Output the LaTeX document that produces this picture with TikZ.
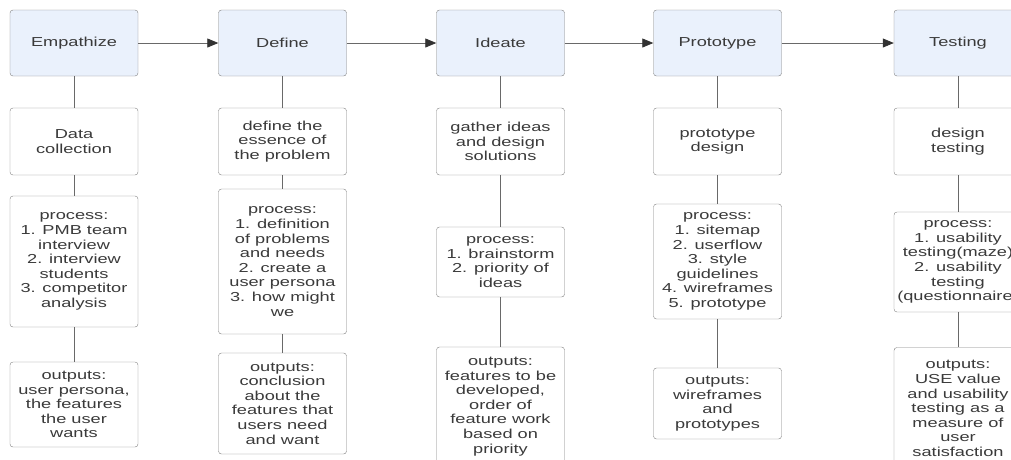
\documentclass[tikz,border=0pt]{standalone}
\usepackage{fontspec}
\setmainfont[FakeStretch=1.4]{Liberation Sans}
\usetikzlibrary{arrows.meta}
\definecolor{phasefill}{RGB}{234,241,252}
\definecolor{boxline}{RGB}{128,128,128}
\definecolor{inktext}{RGB}{58,58,58}
\definecolor{wire}{RGB}{105,105,105}
\definecolor{tipink}{RGB}{50,50,50}
\begin{document}
\begin{tikzpicture}[x=1pt,y=-1pt,
    phase/.style={draw=boxline,fill=phasefill,rounded corners=3pt,minimum width=128pt,
      minimum height=66pt,align=center,text=inktext,font=\fontsize{13}{15}\selectfont},
    card/.style={draw=boxline,fill=white,rounded corners=3pt,minimum width=128pt,
      inner sep=0pt,align=center,text=inktext,font=\fontsize{13}{14.6}\selectfont},
    link/.style={draw=wire,line width=0.8pt},
    flow/.style={link,-{Triangle[length=11pt,width=9pt,color=tipink]}}]
  \useasboundingbox (0,0) rectangle (1011,459);
  \clip (0,0) rectangle (1011,459);
  % top row
  \node[phase] (emp) at (74,43) {Empathize};
  \node[phase] (def) at (282.5,43) {Define};
  \node[phase] (ide) at (500.5,43) {Ideate};
  \node[phase] (pro) at (717.5,43) {Prototype};
  \node[phase] (tes) at (958,43) {Testing};
  \draw[flow] (emp) -- (def);
  \draw[flow] (def) -- (ide);
  \draw[flow] (ide) -- (pro);
  \draw[flow] (pro) -- (tes);
  % empathize
  \node[card,minimum height=67pt] (emp1) at (74,141.5) {Data\\collection};
  \node[card,minimum height=131pt] (emp2) at (74,261.5) {process:\\1. PMB team\\interview\\2. interview\\students\\3. competitor\\analysis};
  \node[card,minimum height=85pt] (emp3) at (74,404.5) {outputs:\\user persona,\\the features\\the user\\wants};
  % define
  \node[card,minimum height=67pt] (def1) at (282.5,141.5) {define the\\essence of\\the problem};
  \node[card,minimum height=145pt] (def2) at (282.5,261.5) {process:\\1. definition\\of problems\\and needs\\2. create a\\user persona\\3. how might\\we};
  \node[card,minimum height=101pt] (def3) at (282.5,403.5) {outputs:\\conclusion\\about the\\features that\\users need\\and want};
  % ideate
  \node[card,minimum height=67pt] (ide1) at (500.5,141.5) {gather ideas\\and design\\solutions};
  \node[card,minimum height=70pt] (ide2) at (500.5,262) {process:\\1. brainstorm\\2. priority of\\ideas};
  \node[card,minimum height=119pt] (ide3) at (500.5,406.5) {outputs:\\features to be\\developed,\\order of\\feature work\\based on\\priority};
  % prototype
  \node[card,minimum height=67pt] (pro1) at (717.5,141.5) {prototype\\design};
  \node[card,minimum height=115pt] (pro2) at (717.5,261.5) {process:\\1. sitemap\\2. userflow\\3. style\\guidelines\\4. wireframes\\5. prototype};
  \node[card,minimum height=71pt] (pro3) at (717.5,403.5) {outputs:\\wireframes\\and\\prototypes};
  % testing
  \node[card,minimum height=67pt] (tes1) at (958,141.5) {design\\testing};
  \node[card,minimum height=100pt] (tes2) at (958,262) {process:\\1. usability\\testing(maze)\\2. usability\\testing\\(questionnaire)};
  \node[card,minimum height=122pt] (tes3) at (958,408.5) {outputs:\\USE value\\and usability\\testing as a\\measure of\\user\\satisfaction};
  % vertical links
  \draw[link] (emp) -- (emp1) (emp1) -- (emp2) (emp2) -- (emp3);
  \draw[link] (def) -- (def1) (def1) -- (def2) (def2) -- (def3);
  \draw[link] (ide) -- (ide1) (ide1) -- (ide2) (ide2) -- (ide3);
  \draw[link] (pro) -- (pro1) (pro1) -- (pro2) (pro2) -- (pro3);
  \draw[link] (tes) -- (tes1) (tes1) -- (tes2) (tes2) -- (tes3);
\end{tikzpicture}
\end{document}
